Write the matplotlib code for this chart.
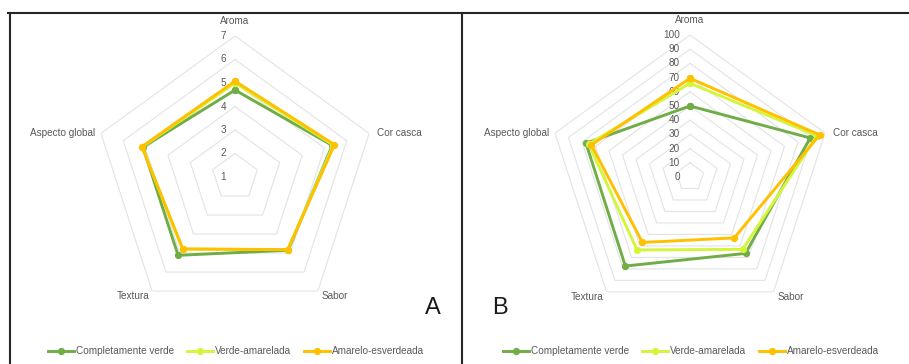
import numpy as np
import matplotlib
matplotlib.use("Agg")
import matplotlib.pyplot as plt
from matplotlib.lines import Line2D

plt.rcParams['font.family'] = ['Liberation Sans', 'DejaVu Sans']

categories = ["Aroma", "Cor casca", "Sabor", "Textura", "Aspecto global"]
series_names = ["Completamente verde", "Verde-amarelada", "Amarelo-esverdeada"]
colors = ["#70AD47", "#D4F53C", "#FFC000"]

# Panel A: hedonic scores (scale 1-7)
a_verde = [4.7, 5.35, 4.85, 5.12, 5.12]
a_verde_amarelada = [5.0, 5.4, 4.82, 4.8, 5.15]
a_amarelo_esverdeada = [5.08, 5.45, 4.82, 4.78, 5.17]
a_ticks = [1, 2, 3, 4, 5, 6, 7]

# Panel B: percentage scores (scale 0-100)
b_verde = [50, 89, 66.5, 77.5, 77]
b_verde_amarelada = [66, 94, 63, 63.5, 75]
b_amarelo_esverdeada = [69.5, 96, 53, 57, 73]
b_ticks = [0, 10, 20, 30, 40, 50, 60, 70, 80, 90, 100]

W, H = 909, 364
fig = plt.figure(figsize=(W / 100, H / 100), dpi=100)

TEXT = "#595959"
GRID = "#E3E3E3"
FS = 7.2

theta = np.linspace(0, 2 * np.pi, len(categories), endpoint=False)
theta_c = np.append(theta, theta[0])


def radar(cx, cy, rad, ticks, data, tick_dx):
    ax = fig.add_axes([(cx - rad) / W, (H - cy - rad) / H, 2 * rad / W, 2 * rad / H],
                      projection="polar")
    ax.set_theta_zero_location("N")
    ax.set_theta_direction(-1)
    ax.set_ylim(ticks[0], ticks[-1])
    ax.grid(False)
    ax.spines["polar"].set_visible(False)
    ax.set_xticks([])
    ax.set_yticks([])
    ax.patch.set_alpha(0)

    # pentagon rings
    for t in ticks[1:]:
        ax.plot(theta_c, [t] * len(theta_c), color=GRID, lw=0.8, zorder=1)

    # value labels along the first axis
    for t in ticks:
        ax.annotate(str(t), (0, t), xytext=(-tick_dx, 0), textcoords="offset pixels",
                    ha="right", va="center", fontsize=FS, color=TEXT,
                    annotation_clip=False)

    # category labels
    offsets = [(0, 15, "center", "center"), (8, 0, "left", "center"),
               (4, -5, "left", "center"), (-3, -5, "right", "center"),
               (-6, 0, "right", "center")]
    for th, cat, (dx, dy, ha, va) in zip(theta, categories, offsets):
        ax.annotate(cat, (th, ticks[-1]), xytext=(dx, dy), textcoords="offset pixels",
                    ha=ha, va=va, fontsize=FS, color=TEXT, annotation_clip=False)

    for vals, col in zip(data, colors):
        v = np.append(vals, vals[0])
        ax.plot(theta_c, v, color=col, lw=2.1, marker="o", ms=4.2, zorder=3,
                clip_on=False)
    return ax


radar(235, 177, 141, a_ticks, [a_verde, a_verde_amarelada, a_amarelo_esverdeada], 9)
radar(690, 177, 142, b_ticks, [b_verde, b_verde_amarelada, b_amarelo_esverdeada], 10)

# panel letters
fig.text(433 / W, 1 - 308 / H, "A", fontsize=17, ha="center", va="center", color="#1a1a1a")
fig.text(500 / W, 1 - 308 / H, "B", fontsize=17, ha="center", va="center", color="#1a1a1a")

# legends
handles = [Line2D([], [], color=c, lw=2.1, marker="o", ms=4.2) for c in colors]
for x0 in (48, 503):
    fig.legend(handles, series_names, loc="center left",
               bbox_to_anchor=(x0 / W, 1 - 351 / H), ncol=3, frameon=False,
               fontsize=FS, labelcolor=TEXT, handlelength=2.6, handletextpad=0.2,
               columnspacing=1.3, borderpad=0, borderaxespad=0)

# panel frames
frame = dict(color="#262626", lw=1.5, transform=fig.transFigure)
fig.add_artist(Line2D([8 / W, 1], [1 - 13 / H, 1 - 13 / H], **frame))
fig.add_artist(Line2D([10 / W, 10 / W], [0, 1 - 13 / H], **frame))
fig.add_artist(Line2D([462 / W, 462 / W], [0, 1 - 13 / H], **frame))

fig.savefig("out.png", dpi=100)
